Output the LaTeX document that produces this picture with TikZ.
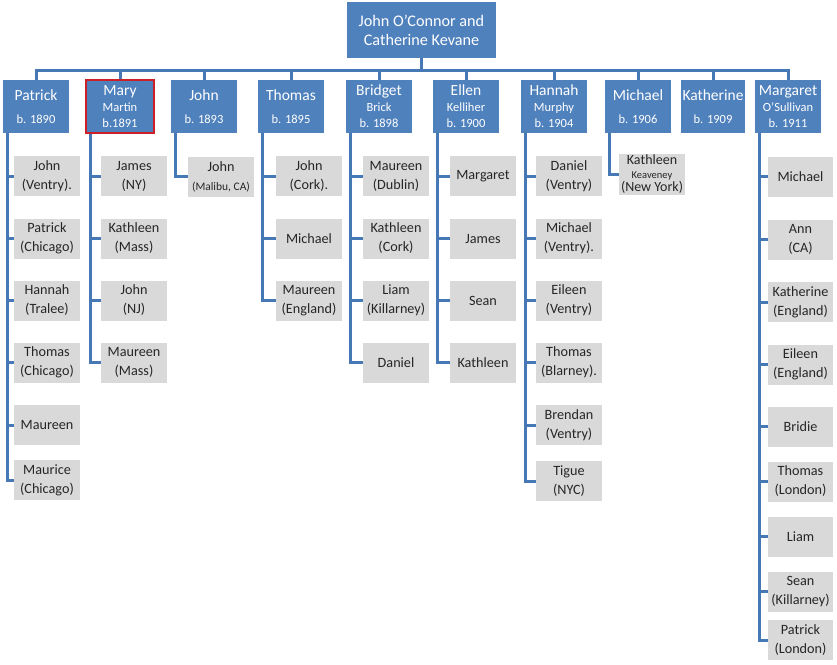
\documentclass[tikz,border=0pt]{standalone}
\usepackage{fontspec}
\setmainfont{Carlito}
\definecolor{boxblue}{RGB}{79,129,189}
\definecolor{linkblue}{RGB}{70,120,182}
\definecolor{kidgray}{RGB}{217,217,217}
\definecolor{markred}{RGB}{204,32,40}
\newcommand{\yr}[1]{{\fontsize{12.5}{15}\selectfont #1}}
\begin{document}
\begin{tikzpicture}[x=1pt, y=-1pt,
  top/.style={fill=boxblue, text=white, minimum width=66pt, minimum height=53pt, inner sep=1pt, align=center, font=\fontsize{15.5}{16}\selectfont},
  kid/.style={fill=kidgray, text=black!85, minimum width=66pt, minimum height=40pt, inner sep=1pt, align=center, font=\fontsize{14.2}{19}\selectfont},
  link/.style={draw=linkblue, line width=3pt}]
\useasboundingbox (0,0) rectangle (837,664);

\node[top, minimum width=149pt, minimum height=56pt, font=\fontsize{16.2}{19}\selectfont] (root) at (421.5, 30) {John O'Connor and\\Catherine Kevane};

\node[top] (pat) at (36, 106.5) {Patrick\\[7pt]\yr{b. 1890}};
\node[top, draw=markred, line width=1.5pt, minimum width=68pt] (mar) at (120, 106.5) {Mary\\\yr{Martin}\\\yr{b.1891}};
\node[top] (joh) at (204, 106.5) {John\\[7pt]\yr{b. 1893}};
\node[top] (tho) at (291, 106.5) {Thomas\\[7pt]\yr{b. 1895}};
\node[top] (bri) at (379, 106.5) {Bridget\\\yr{Brick}\\\yr{b. 1898}};
\node[top] (ell) at (466, 106.5) {Ellen\\\yr{Kelliher}\\\yr{b. 1900}};
\node[top] (han) at (554, 106.5) {Hannah\\\yr{Murphy}\\\yr{b. 1904}};
\node[top] (mic) at (638, 106.5) {Michael\\[7pt]\yr{b. 1906}};
\node[top, minimum width=64pt] (kat) at (713, 106.5) {Katherine\\[7pt]\yr{b. 1909}};
\node[top] (mgt) at (788, 106.5) {Margaret\\\yr{O'Sullivan}\\\yr{b. 1911}};

% Patrick's children
\node[kid] (pat1) at (47, 176) {John\\(Ventry).};
\node[kid] (pat2) at (47, 238.5) {Patrick\\(Chicago)};
\node[kid] (pat3) at (47, 300.5) {Hannah\\(Tralee)};
\node[kid] (pat4) at (47, 362.5) {Thomas\\(Chicago)};
\node[kid] (pat5) at (47, 425) {Maureen};
\node[kid] (pat6) at (47, 480) {Maurice\\(Chicago)};

% Mary's children
\node[kid] (mar1) at (134, 176) {James\\(NY)};
\node[kid] (mar2) at (134, 238.5) {Kathleen\\(Mass)};
\node[kid] (mar3) at (134, 300.5) {John\\(NJ)};
\node[kid] (mar4) at (134, 362.5) {Maureen\\(Mass)};

% John's child
\node[kid] (joh1) at (221, 176.5) {John\\\fontsize{11.5}{13}\selectfont(Malibu, CA)};

% Thomas's children
\node[kid] (tho1) at (309, 176) {John\\(Cork).};
\node[kid] (tho2) at (309, 238.5) {Michael};
\node[kid] (tho3) at (309, 300.5) {Maureen\\(England)};

% Bridget's children
\node[kid] (bri1) at (396, 176) {Maureen\\(Dublin)};
\node[kid] (bri2) at (396, 238.5) {Kathleen\\(Cork)};
\node[kid] (bri3) at (396, 300.5) {Liam\\(Killarney)};
\node[kid] (bri4) at (396, 362.5) {Daniel};

% Ellen's children
\node[kid] (ell1) at (483, 176) {Margaret};
\node[kid] (ell2) at (483, 238.5) {James};
\node[kid] (ell3) at (483, 300.5) {Sean};
\node[kid] (ell4) at (483, 362.5) {Kathleen};

% Hannah's children
\node[kid] (han1) at (569, 176) {Daniel\\(Ventry)};
\node[kid] (han2) at (569, 238.5) {Michael\\(Ventry).};
\node[kid] (han3) at (569, 300.5) {Eileen\\(Ventry)};
\node[kid] (han4) at (569, 362.5) {Thomas\\(Blarney).};
\node[kid] (han5) at (569, 425) {Brendan\\(Ventry)};
\node[kid] (han6) at (569, 481) {Tigue\\(NYC)};

% Michael's child
\node[kid, minimum height=37pt, font=\fontsize{14}{13.5}\selectfont] (mic1) at (652, 174.5) {Kathleen\\{\fontsize{10.5}{11}\selectfont Keaveney}\\(New York)};

% Margaret's children
\node[kid, minimum width=65pt] (mgt1) at (800.5, 176.5) {Michael};
\node[kid, minimum width=65pt] (mgt2) at (800.5, 239.5) {Ann\\(CA)};
\node[kid, minimum width=65pt] (mgt3) at (800.5, 302) {Katherine\\(England)};
\node[kid, minimum width=65pt] (mgt4) at (800.5, 364.5) {Eileen\\(England)};
\node[kid, minimum width=65pt] (mgt5) at (800.5, 426.5) {Bridie};
\node[kid, minimum width=65pt] (mgt6) at (800.5, 481.5) {Thomas\\(London)};
\node[kid, minimum width=65pt] (mgt7) at (800.5, 536.5) {Liam};
\node[kid, minimum width=65pt] (mgt8) at (800.5, 591.5) {Sean\\(Killarney)};
\node[kid, minimum width=65pt] (mgt9) at (800.5, 640) {Patrick\\(London)};

% top bar
\foreach \c in {pat,mar,joh,tho,bri,ell,han,mic,kat,mgt}
  \draw[link] (root.south) -- ++(0,12) -| (\c.north);

% columns
\foreach \c/\n in {pat/6,mar/4,joh/1,tho/3,bri/4,ell/4,han/6,mic/1,mgt/9}
  \foreach \k in {1,...,\n}
    \draw[link] ([xshift=5pt]\c.south west) |- (\c\k.west);
\end{tikzpicture}
\end{document}
